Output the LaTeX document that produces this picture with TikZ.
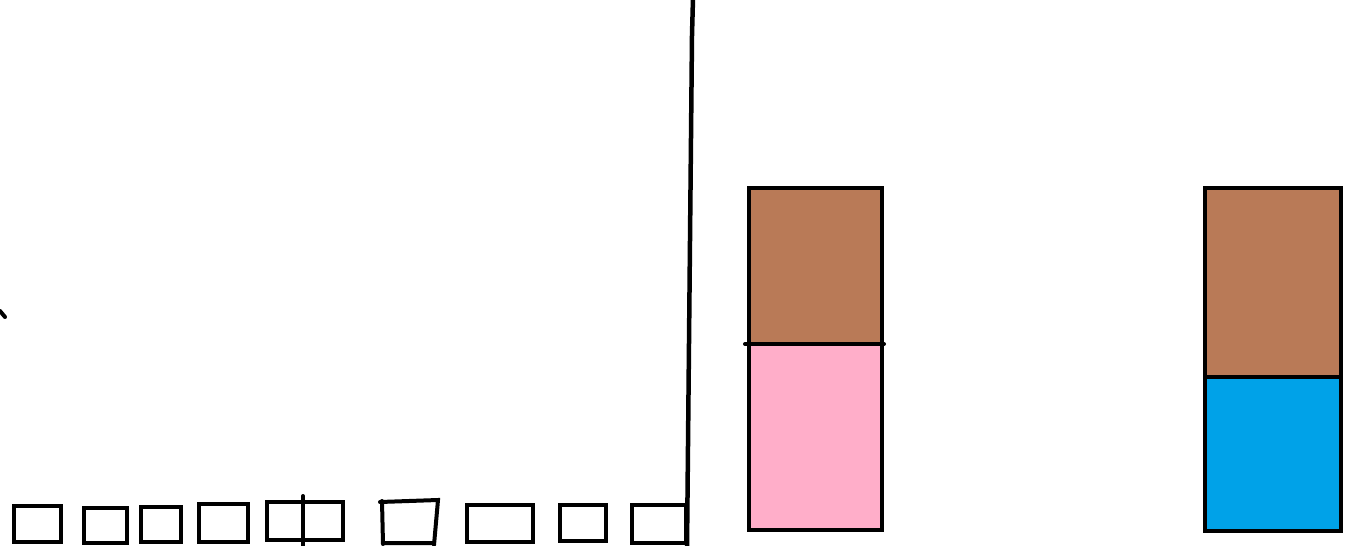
\documentclass[tikz,border=0pt]{standalone}
\definecolor{barbrown}{RGB}{185,122,87}
\definecolor{barpink}{RGB}{255,174,201}
\definecolor{barblue}{RGB}{0,162,232}
\begin{document}
\begin{tikzpicture}[x=1pt, y=-1pt, line width=4.5pt,
    smallbox/.style={draw=black, line width=4pt}]
    % Canvas (pixel grid of the sketch, y pointing down)
    \useasboundingbox (0,0) rectangle (1360,546);

    % Stray pen mark on the left edge
    \draw[line width=4pt, line cap=round] (0,311) -- (5,317);

    % Divider line, slightly slanted
    \draw (693,-2) -- (692,35) -- (687,548);

    % Row of small boxes along the bottom
    \foreach \xa/\ya/\xb/\yb in {14/506/61/542, 84/508/127/543, 141/507/181/542,
        199/504/248/542, 267/502/343/540, 467/505/533/542, 560/505/606/541,
        632/505/686/543} {
        \draw[smallbox] (\xa,\ya) rectangle (\xb,\yb);
    }
    % Split in the fifth box
    \draw[line width=4pt, line cap=round] (303,496) -- (303,546);
    % Hand-drawn (skewed) sixth box
    \draw[line width=4pt, line cap=round]
        (380,502) -- (438,500) -- (434,545)
        (383,543) -- (434,543)
        (382,501) -- (383,544);

    % Left bar: brown on pink
    \fill[barbrown] (749,188) rectangle (882,344);
    \fill[barpink] (749,344) rectangle (882,530);
    \draw (749,188) rectangle (882,530);
    \draw[line width=4pt, line cap=round] (745,344) -- (884,344);

    % Right bar: brown on blue
    \fill[barbrown] (1205,188) rectangle (1341,377);
    \fill[barblue] (1205,377) rectangle (1341,531);
    \draw (1205,188) rectangle (1341,531);
    \draw (1205,377) -- (1341,377);
\end{tikzpicture}
\end{document}
